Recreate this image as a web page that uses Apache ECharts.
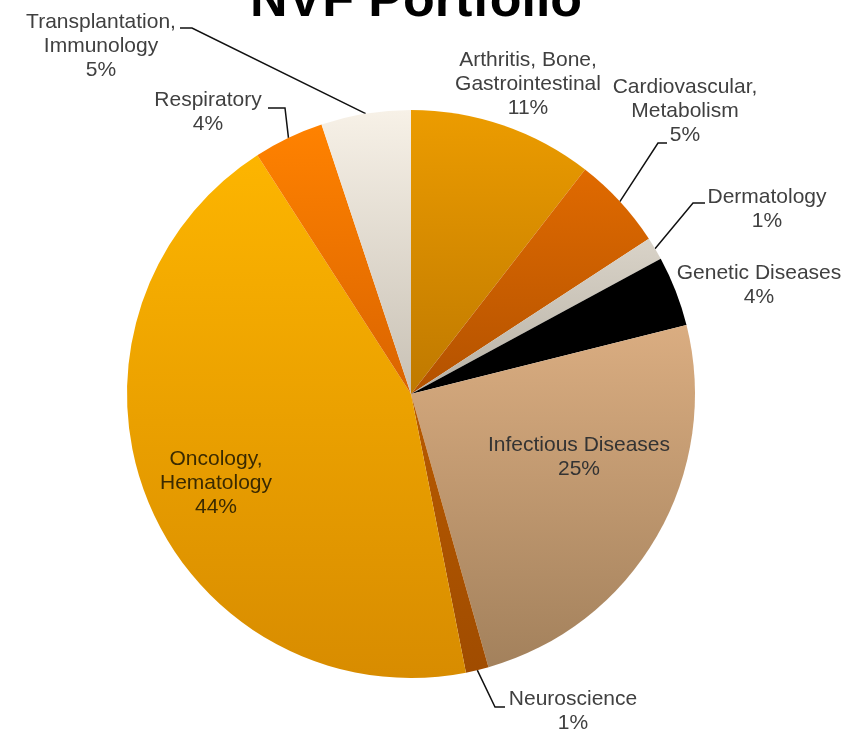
<!DOCTYPE html>
<html>
<head>
<meta charset="utf-8">
<script src="https://cdn.jsdelivr.net/npm/echarts@6/dist/echarts.min.js"></script>
<style>html,body{margin:0;padding:0;background:#fff;}#c{width:857px;height:731px;}</style>
</head>
<body>
<div id="c"></div>
<script>
// ---- data ----
const categories = [
  'Arthritis, Bone,\nGastrointestinal',
  'Cardiovascular,\nMetabolism',
  'Dermatology',
  'Genetic Diseases',
  'Infectious Diseases',
  'Neuroscience',
  'Oncology,\nHematology',
  'Respiratory',
  'Transplantation,\nImmunology'
];
// shares in % (labels show them rounded)
const values = [10.5, 5.3, 1.3, 4.0, 24.5, 1.3, 44.0, 4.0, 5.1];

// ---- styles ----
const gradStops = [
  ['#EC9C00', '#BF7900'],
  ['#E06A00', '#B35200'],
  ['#D9D3C8', '#B7B1A5'],
  ['#000000', '#000000'],
  ['#DAAD81', '#A3815C'],
  ['#B85A00', '#A04C00'],
  ['#FDB500', '#D88C00'],
  ['#FF8200', '#DA6400'],
  ['#F7F1E7', '#C8C1B5']
];
const labelColors = ['#404040','#404040','#404040','#404040','#333333','#404040','#3a2a00','#404040','#404040'];
// label placement (style): center of text block, optional elbow + end of leader line
const labelPlace = [
  { x: 528, y: 84 },
  { x: 685, y: 111, line: [[658, 143], [667, 143]] },
  { x: 767, y: 209, line: [[693, 203], [705, 203]] },
  { x: 759, y: 285 },
  { x: 579, y: 457 },
  { x: 573, y: 711, line: [[495, 707], [505, 707]] },
  { x: 216, y: 483 },
  { x: 208, y: 112, line: [[285, 108], [268, 108]] },
  { x: 101, y: 46, line: [[192, 28], [180, 28]] }
];
const CX = 411, CY = 394, R = 284;

function edgePoint(i) {
  const total = values.reduce((a, b) => a + b, 0);
  let cum = 0;
  for (let k = 0; k < i; k++) cum += values[k];
  const a = (cum + values[i] / 2) / total * Math.PI * 2;
  return [CX + R * Math.sin(a), CY - R * Math.cos(a)];
}

const seriesData = categories.map((name, i) => ({
  name: name,
  value: values[i],
  itemStyle: {
    color: {
      type: 'linear', x: 0, y: 0, x2: 0, y2: 1,
      colorStops: [{ offset: 0, color: gradStops[i][0] }, { offset: 1, color: gradStops[i][1] }]
    }
  },
  label: { color: labelColors[i] },
  labelLine: { show: !!labelPlace[i].line }
}));

const chart = echarts.init(document.getElementById('c'), null, { renderer: 'canvas' });
chart.setOption({
  backgroundColor: '#ffffff',
  animation: false,
  title: {
    text: 'NVF Portfolio',
    left: 411,
    top: -29,
    textAlign: 'center',
    textStyle: {
      fontFamily: 'Liberation Sans, Arial, sans-serif',
      fontSize: 52,
      fontWeight: 'bold',
      color: '#000000'
    }
  },
  series: [{
    type: 'pie',
    center: [CX, CY],
    radius: R,
    startAngle: 90,
    clockwise: true,
    avoidLabelOverlap: false,
    data: seriesData,
    itemStyle: { borderWidth: 0 },
    label: {
      show: true,
      position: 'outside',
      formatter: p => p.name + '\n' + Math.round(p.value) + '%',
      fontFamily: 'Liberation Sans, Arial, sans-serif',
      fontSize: 21,
      lineHeight: 24,
      align: 'center'
    },
    labelLine: {
      show: true,
      lineStyle: { color: '#111111', width: 1.5 }
    },
    labelLayout: function (p) {
      const L = labelPlace[p.dataIndex];
      const out = { x: L.x, y: L.y, align: 'center', verticalAlign: 'middle' };
      if (L.line) {
        const e = edgePoint(p.dataIndex);
        out.labelLinePoints = [e, L.line[0], L.line[1]];
      }
      return out;
    }
  }]
});
</script>
</body>
</html>
